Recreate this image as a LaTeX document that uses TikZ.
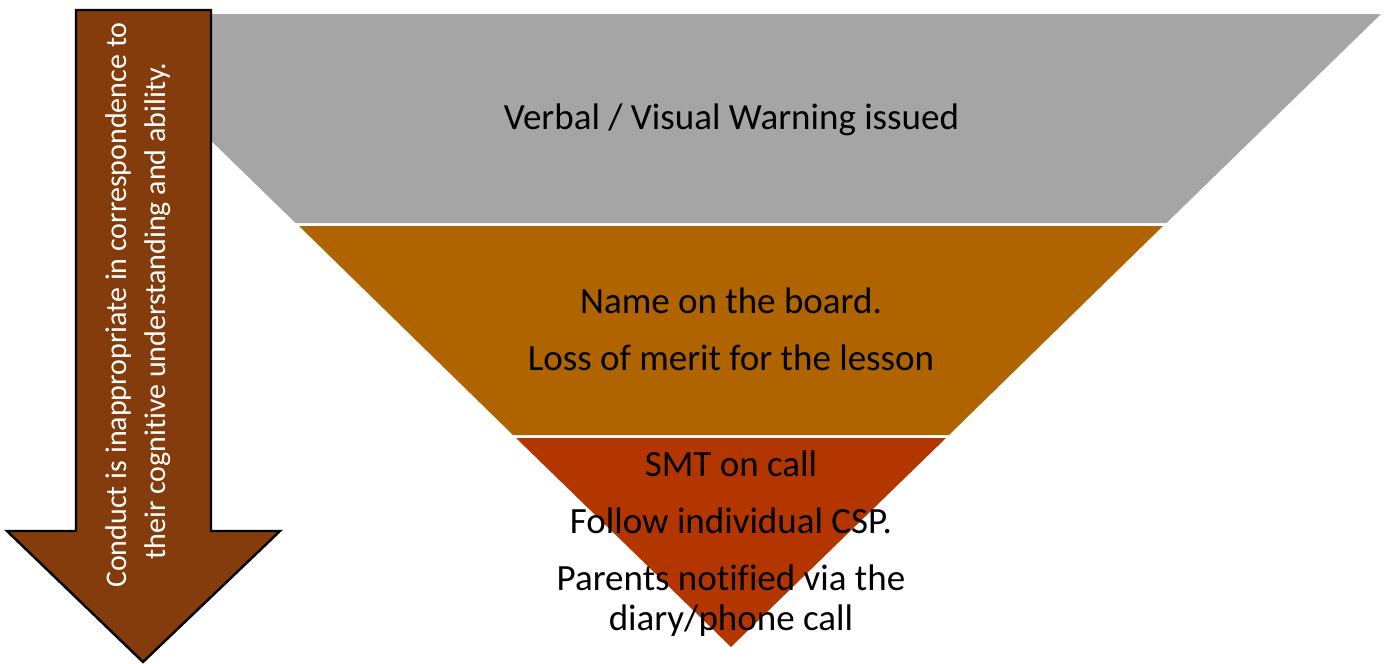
\documentclass[tikz,border=0pt]{standalone}
\usepackage{fontspec}
\setmainfont{Carlito}[Ligatures=NoCommon]
\usepackage{tikz}
\usetikzlibrary{calc}
\definecolor{warngray}{HTML}{A5A5A5}
\definecolor{boardorange}{HTML}{AF6400}
\definecolor{callred}{HTML}{B33500}
\definecolor{arrowbrown}{HTML}{843C0C}
\tikzset{
    steptext/.style={font=\fontsize{18.5}{22}\selectfont, anchor=base, inner sep=0pt},
    sidetext/.style={font=\fontsize{15}{18}\selectfont, text=white, anchor=base, rotate=90, inner sep=0pt}
}

\begin{document}
\begin{tikzpicture}[x=0.5pt, y=-0.5pt]
    \useasboundingbox (0,0) rectangle (1388,664);
    % the funnel
    \coordinate (apex) at (731,647);
    \fill[warngray] (81,14) -- (1381,14) -- (1166.5,223) -- (295.5,223) -- cycle;
    \fill[boardorange] (299,226) -- (1163,226) -- (949,435) -- (513,435) -- cycle;
    \fill[callred] (516,438) -- (946,438) -- (apex) -- cycle;
    % texts of the levels
    \node[steptext] (warn) at (731.5,129) {Verbal / Visual Warning issued};
    \node[steptext] (name) at (731,313) {Name on the board.};
    \node[steptext] (merit) at (731,370) {Loss of merit for the lesson};
    \node[steptext] (smt) at (731,476) {SMT on call};
    \node[steptext] (csp) at (731,533) {Follow individual CSP.};
    \node[steptext] (parents) at (731,590) {Parents notified via the};
    \node[steptext] (diary) at (731,630) {diary/phone call};
    % the side arrow
    \filldraw[fill=arrowbrown, draw=black, line width=1.2pt, line join=miter]
        (76,10) -- (211,10) -- (211,531) -- (280,531) -- (143,662)
        -- (7,531) -- (76,531) -- cycle;
    \node[sidetext] (conduct) at (126,305) {Conduct is inappropriate in correspondence to};
    \node[sidetext] (ability) at (165,311) {their cognitive understanding and ability.};
\end{tikzpicture}
\end{document}
